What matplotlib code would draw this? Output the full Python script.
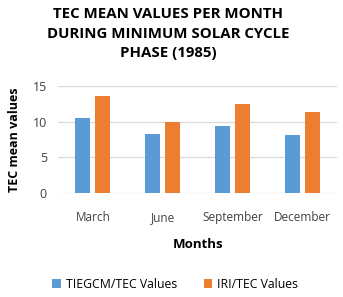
import numpy as np
import matplotlib.pyplot as plt

months = ["March", "June", "September", "December"]
tiegcm = [10.45, 8.2, 9.35, 8.1]
iri = [13.65, 10.0, 12.55, 11.3]

plt.rcParams['font.family'] = ['Open Sans', 'DejaVu Sans']

fig = plt.figure(figsize=(3.43, 2.97), dpi=100)
ax = fig.add_axes([0.169, 0.351, 0.814, 0.359])

x = np.arange(len(months))
w = 0.215
ax.bar(x - 0.142, tiegcm, w, color="#5B9BD5", label="TIEGCM/TEC Values", zorder=3)
ax.bar(x + 0.142, iri, w, color="#ED7D31", label="IRI/TEC Values", zorder=3)

ax.set_xlim(-0.5, 3.5)
ax.set_ylim(0, 15)
ax.set_yticks([0, 5, 10, 15])
ax.set_xticks(x)
ax.set_xticklabels(months)
ax.grid(axis="y", color="#d9d9d9", linewidth=0.9, zorder=0)
for s in ax.spines.values():
    s.set_visible(False)
ax.tick_params(length=0, colors="#404040")
ax.tick_params(axis="x", pad=13, labelsize=8.5)
ax.tick_params(axis="y", pad=8, labelsize=9)

fig.text(0.49, 0.975, "TEC MEAN VALUES PER MONTH\nDURING MINIMUM SOLAR CYCLE\nPHASE (1985)",
         ha="center", va="top", fontsize=10.8, fontweight="bold", linespacing=1.5)
ax.set_ylabel("TEC mean values", fontsize=9, fontweight="bold", labelpad=8)
ax.set_xlabel("Months", fontsize=9.5, fontweight="bold", labelpad=10)

ax.legend(loc="center", bbox_to_anchor=(0.42, -0.86), ncol=2, frameon=False,
          fontsize=8.8, handlelength=0.7, handleheight=0.7, columnspacing=2.2,
          handletextpad=0.4)

fig.savefig("out.png", dpi=100)
